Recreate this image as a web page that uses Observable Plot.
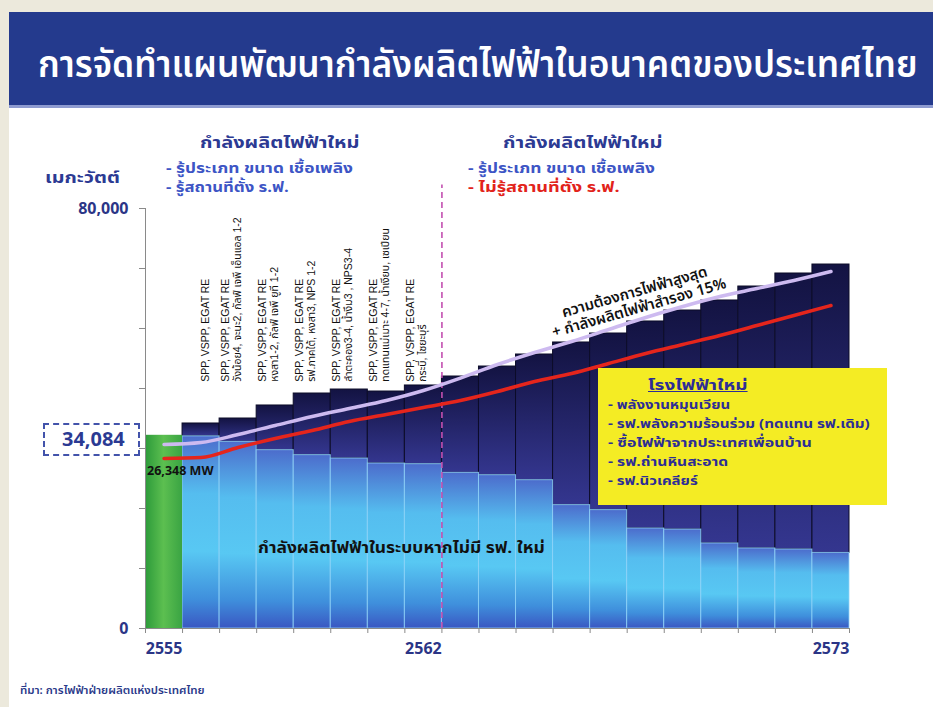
<!DOCTYPE html>
<html><head><meta charset="utf-8">
<script src="https://cdn.jsdelivr.net/npm/d3@7"></script>
<script src="https://cdn.jsdelivr.net/npm/@observablehq/plot@0.6"></script>
<style>
body{margin:0;background:#fff;}
#page{position:relative;width:933px;height:707px;overflow:hidden;background:#fff;font-family:"Noto Sans Thai","Noto Sans","DejaVu Sans",sans-serif;}
.abs{position:absolute;white-space:nowrap;line-height:1;transform-origin:0 50%;}
#chart{position:absolute;left:0;top:110px;}
</style></head><body>
<div id="page">
  <div class="abs" style="left:0;top:0;width:933px;height:12px;background:#ece9dc"></div>
  <div class="abs" style="left:0;top:0;width:9px;height:707px;background:#ece9dc"></div>
  <div class="abs" style="left:9px;top:12px;width:924px;height:93px;background:#243a8d"></div>
  <div class="abs" style="left:9px;top:105px;width:924px;height:3px;background:#8e9bd0"></div>
  <div id="chart"></div>
</div>
<script>
// ---------- data ----------
const title = "การจัดทำแผนพัฒนากำลังผลิตไฟฟ้าในอนาคตของประเทศไทย";
const source = "ที่มา: การไฟฟ้าฝ่ายผลิตแห่งประเทศไทย";
const yUnit = "เมกะวัตต์";
const years = [2555,2556,2557,2558,2559,2560,2561,2562,2563,2564,2565,2566,2567,2568,2569,2570,2571,2572,2573];
// capacity of existing system without new plants (light blue), MW
const existing = [36800,36600,35550,33970,33020,32380,31430,31300,29650,29200,28250,23500,22550,19050,18850,16200,15250,15050,14400];
// total capacity incl. new plants (top of dark bars), MW
const total = [36800,39050,40000,42480,44760,45520,45140,46290,48000,49900,52190,54480,56190,58480,60570,62480,65140,67620,69330];
// peak demand + 15% reserve (lavender line)
const reserve = [35050,35430,36950,38670,40380,41900,43430,45330,47700,50290,52570,54670,56950,59240,61330,63240,64760,66290,68000];
// peak demand (red line)
const peak = [32380,32570,34480,36190,37710,39430,40760,42100,43430,45140,47050,48570,50480,52380,54100,55810,57710,59620,61520];
const xTickLabels = [2555, 2562, 2573];
const yTickLabels = [0, 80000];
const yMinorTicks = [0, 11429, 22857, 34286, 45714, 57143, 68571, 80000];
const splitYear = 2562.5;
const projYears = [2556,2557,2558,2559,2560,2561,2562];
const projLabels = [
  "SPP, VSPP, EGAT RE",
  "SPP, VSPP, EGAT RE\nวังน้อย4, จะนะ2, กัลฟ์ เจพี เอ็นแอล 1-2",
  "SPP, VSPP, EGAT RE\nหงสา1-2, กัลฟ์ เจพี ยูที 1-2",
  "SPP, VSPP, EGAT RE\nรฟ.ภาคใต้, หงสา3, NPS 1-2",
  "SPP, VSPP, EGAT RE\nลำตะคอง3-4, น้ำงึม3 , NPS3-4",
  "SPP, VSPP, EGAT RE\nทดแทนแม่เมาะ 4-7, น้ำเงียบ, เซเปียน",
  "SPP, VSPP, EGAT RE\nกระบี่, ไซยะบุรี"
];
const labelBase = 47000; // MW level where the rotated plant labels start
const leftHead = ["กำลังผลิตไฟฟ้าใหม่", "- รู้ประเภท ขนาด เชื้อเพลิง", "- รู้สถานที่ตั้ง ร.ฟ."];
const rightHead = ["กำลังผลิตไฟฟ้าใหม่", "- รู้ประเภท ขนาด เชื้อเพลิง", "- ไม่รู้สถานที่ตั้ง ร.ฟ."];
const reserveLabel = "ความต้องการไฟฟ้าสูงสุด\n+ กำลังผลิตไฟฟ้าสำรอง 15%";
const peakLabel = "26,348 MW";
const currentLabel = "34,084";
const existingLabel = "กำลังผลิตไฟฟ้าในระบบหากไม่มี รฟ. ใหม่";
const boxTitle = "โรงไฟฟ้าใหม่";
const boxItems = ["- พลังงานหมุนเวียน", "- รฟ.พลังความร้อนร่วม (ทดแทน รฟ.เดิม)", "- ซื้อไฟฟ้าจากประเทศเพื่อนบ้าน", "- รฟ.ถ่านหินสะอาด", "- รฟ.นิวเคลียร์"];

// ---------- tables ----------
const bars = years.map((y, i) => ({year: y, existing: existing[i], total: total[i]}));
const lines = years.map((y, i) => ({year: y, reserve: reserve[i], peak: peak[i]}));
const labels = projYears.map((y, i) => ({year: y, label: projLabels[i]}));
const xBoundaries = years.map(y => y - 0.5).concat([years[years.length - 1] + 0.5]);

const navy = "#2b3586";
const thaiFont = '"Noto Sans Thai","Noto Sans","DejaVu Sans",sans-serif';
const labFont = '"Liberation Sans","Noto Sans Thai",sans-serif';

const plot = Plot.plot({
  width: 933, height: 597,
  marginLeft: 145, marginRight: 84, marginTop: 98, marginBottom: 79,
  x: {domain: [2554.5, 2573.5]},
  y: {domain: [0, 80000]},
  style: {background: "transparent", overflow: "visible", fontFamily: thaiFont},
  marks: [
    Plot.rectY(bars.slice(1), {x1: d => d.year - 0.5, x2: d => d.year + 0.5, y1: "existing", y2: "total", fill: "url(#gDark)", stroke: "#0c0c28", strokeWidth: 1}),
    Plot.rectY(bars.slice(1), {x1: d => d.year - 0.5, x2: d => d.year + 0.5, y1: 0, y2: "existing", fill: "url(#gLight)", stroke: "#8fd3f7", strokeWidth: 1, strokeOpacity: 0.8}),
    Plot.rectY(bars.slice(0, 1), {x1: d => d.year - 0.5, x2: d => d.year + 0.5, y1: 0, y2: "existing", fill: "url(#gGreen)"}),
    Plot.ruleX([splitYear], {y1: 0, y2: 84500, stroke: "#c24fb0", strokeWidth: 1.6, strokeDasharray: "6,4", clip: false}),
    Plot.ruleX([2554.5], {y1: 0, y2: 80000, stroke: "#8a8a8a"}),
    Plot.ruleY([0], {x1: 2554.5, x2: 2573.5, stroke: "#8a8a8a"}),
    Plot.line(lines, {x: "year", y: "reserve", stroke: "#cdbaf0", strokeWidth: 3.5, curve: "monotone-x"}),
    Plot.line(lines, {x: "year", y: "peak", stroke: "#e5251c", strokeWidth: 3.5, curve: "monotone-x"}),
    Plot.axisY(yMinorTicks, {tickSize: 6, tickFormat: () => "", stroke: "#8a8a8a", label: null}),
    Plot.axisY(yTickLabels, {tickSize: 0, tickPadding: 17, tickFormat: d3.format(","), fontSize: 16, fontWeight: "bold", fill: navy, label: null}),
    Plot.axisX(xBoundaries, {tickSize: 5, tickFormat: () => "", stroke: "#8a8a8a", label: null}),
    Plot.axisX(xTickLabels, {tickSize: 0, tickPadding: 14, tickFormat: d => String(d), fontSize: 16, fontWeight: "bold", fill: navy, label: null}),
    Plot.text(labels.slice(0, 1), {x: "year", y: () => labelBase, text: "label", rotate: -90, textAnchor: "start", dx: 5, fontSize: 10.5, fill: "#111", fontFamily: labFont}),
    Plot.text(labels.slice(1), {x: "year", y: () => labelBase, text: "label", rotate: -90, textAnchor: "start", dx: -7, lineHeight: 1.1, fontSize: 10.5, fill: "#111", fontFamily: labFont}),
    Plot.text(lines.slice(0, 1), {x: "year", y: "peak", text: () => peakLabel, textAnchor: "start", dx: -17, dy: 12, fontSize: 12.5, fontWeight: "bold", fill: "#111"}),
    Plot.text(lines.filter(d => d.year === 2567), {x: "year", y: "reserve", text: () => reserveLabel, rotate: -16, dx: 28, dy: -30, fontSize: 15, fontWeight: 600, fill: "#111", lineHeight: 1.1})
  ]
});
document.getElementById("chart").appendChild(plot);

// gradients
const defs = d3.select(plot).insert("defs", ":first-child");
function grad(id, stops, horiz) {
  const g = defs.append("linearGradient").attr("id", id).attr("x1", 0).attr("y1", 0).attr("x2", horiz ? 1 : 0).attr("y2", horiz ? 0 : 1);
  stops.forEach(([o, c]) => g.append("stop").attr("offset", o).attr("stop-color", c));
}
grad("gDark", [[0, "#131342"], [1, "#34368f"]]);
grad("gLight", [[0, "#4c6ccc"], [0.3, "#55bdef"], [0.6, "#58c8f3"], [0.85, "#3f8fdc"], [1, "#3a57c2"]]);
grad("gGreen", [[0, "#2c9a3a"], [0.5, "#5cbf50"], [1, "#3aa443"]], true);

// HTML annotations
const page = document.getElementById("page");
function addText(txt, left, cy, css, fitW) {
  const el = document.createElement("div");
  el.className = "abs";
  el.textContent = txt;
  el.style.cssText += css;
  el.style.left = left + "px";
  page.appendChild(el);
  const h = el.offsetHeight;
  el.style.top = (cy - h / 2) + "px";
  if (fitW) el.style.transform = `scaleX(${fitW / el.offsetWidth})`;
  return el;
}
addText(title, 38, 66, "color:#fff;font-size:37px;font-weight:600;", 880);
addText(yUnit, 45, 178, "color:#2c3a93;font-weight:bold;font-size:15px;", 75);
addText(leftHead[0], 200, 143, "color:#2c3a93;font-weight:bold;font-size:16px;", 160);
addText(leftHead[1], 166, 169, "color:#3d55c5;font-weight:bold;font-size:14px;", 187);
addText(leftHead[2], 166, 188, "color:#3d55c5;font-weight:bold;font-size:14px;", 123);
addText(rightHead[0], 503, 143, "color:#2c3a93;font-weight:bold;font-size:16px;", 160);
addText(rightHead[1], 468, 169, "color:#3d55c5;font-weight:bold;font-size:14px;", 187);
addText(rightHead[2], 468, 188, "color:#e2231a;font-weight:bold;font-size:14px;", 152);
addText(existingLabel, 258, 548, "color:#111;font-weight:bold;font-size:15px;", 287);
addText(source, 20, 690, "color:#2a3a8a;font-size:11px;font-weight:600;", 185);

// dashed box with 34,084
const box = document.createElement("div");
box.className = "abs";
box.style.cssText += "left:43px;top:423px;width:93px;height:29px;border:2px dashed #4353ab;";
page.appendChild(box);
addText(currentLabel, 62, 440, "color:#2b3a93;font-weight:bold;font-size:19px;", 63);

// yellow box
const yb = document.createElement("div");
yb.className = "abs";
yb.style.cssText += "left:598px;top:368px;width:289px;height:137px;background:#f4ec24;";
page.appendChild(yb);
addText(boxTitle, 648, 386, "color:#2d2d96;font-weight:bold;font-size:14px;text-decoration:underline;", 99);
const itemW = [122, 262, 204, 120, 90];
const itemY = [405, 424, 443, 462, 481];
boxItems.forEach((s, i) => addText(s, 608, itemY[i], "color:#2d2d96;font-weight:bold;font-size:13px;", itemW[i]));
</script>
</body></html>
